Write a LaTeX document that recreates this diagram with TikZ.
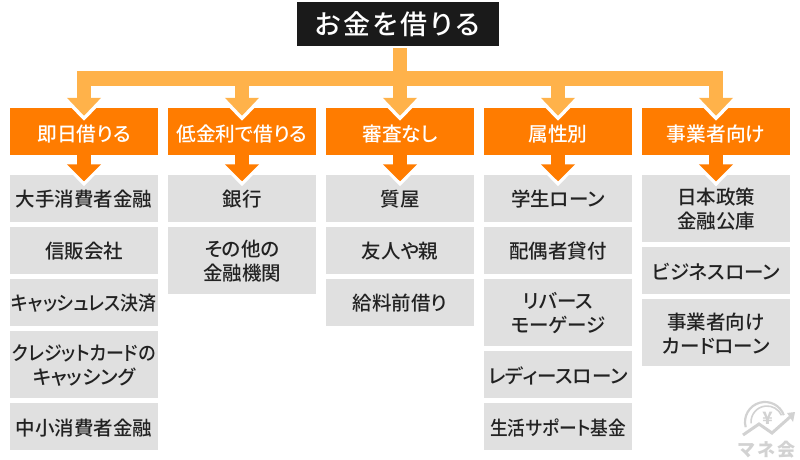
\documentclass[tikz,border=0pt]{standalone}
\usepackage{fontspec}
\usetikzlibrary{arrows.meta}
\newfontfamily\jp[RawFeature=+palt]{Noto Sans CJK JP Medium}
\newfontfamily\jptitle[RawFeature=+palt,LetterSpace=10]{Noto Sans CJK JP Medium}
\newfontfamily\jplogo[RawFeature=+palt]{Noto Sans CJK JP Black}
\definecolor{topblack}{HTML}{1A1A1A}
\definecolor{mainorange}{HTML}{FF7C00}
\definecolor{lightorange}{HTML}{FFB24A}
\definecolor{itemgrey}{HTML}{E0E0E0}
\definecolor{itemtext}{HTML}{222222}
\definecolor{logogrey}{HTML}{D2D2D2}
\newcommand{\tight}[2]{\scalebox{#1}[1]{#2}}
\tikzset{
  titlebox/.style={fill=topblack,text=white,minimum width=202pt,minimum height=44.5pt,inner sep=0pt,
    font={\jptitle\fontsize{27}{30}\selectfont},text height=21pt,text depth=0pt,align=center},
  headbox/.style={fill=mainorange,text=white,minimum width=148pt,minimum height=47pt,inner sep=0pt,
    font={\jp\fontsize{19.7}{24}\selectfont},text height=19pt,text depth=0pt,align=center},
  itembox/.style={fill=itemgrey,text=itemtext,minimum width=148pt,inner sep=0pt,
    font={\jp\fontsize{19.5}{24}\selectfont},text depth=0pt,align=center},
  oneline/.style={itembox,minimum height=47pt,text height=17pt},
  twoline/.style={itembox,minimum height=67pt,text height=41pt},
  trunkline/.style={draw=lightorange,line width=14.6pt,miter limit=10,
    -{Triangle[width=33pt,length=18pt,fill=lightorange]}},
  trunkboth/.style={draw=lightorange,line width=14.6pt,miter limit=10,
    {Triangle[width=33pt,length=18pt,fill=lightorange]}-{Triangle[width=33pt,length=18pt,fill=lightorange]}},
  subline/.style={draw=mainorange,line width=14.6pt,
    -{Triangle[width=33pt,length=17pt,fill=mainorange]}},
  halo/.style={draw=white,line width=14.6pt,
    -{Triangle[width=45pt,length=24pt,fill=white]}},
  haloboth/.style={draw=white,line width=14.6pt,miter limit=10,
    {Triangle[width=45pt,length=24pt,fill=white]}-{Triangle[width=45pt,length=24pt,fill=white]}},
}
\begin{document}
\begin{tikzpicture}[x=1pt,y=-1pt]
\useasboundingbox (0,0) rectangle (800,460);
\fill[white] (0,0) rectangle (800,460);
% title
\node[titlebox] (title) at (397.5,24.25) {お金を借りる};
% headers
\node[headbox] (h1) at (84,131.5) {即日借りる};
\node[headbox] (h2) at (242,131.5) {低金利で借りる};
\node[headbox] (h3) at (400,131.5) {審査なし};
\node[headbox] (h4) at (558,131.5) {属性別};
\node[headbox] (h5) at (716,131.5) {事業者向け};
% column 1
\node[oneline] (a1) at (84,198.3) {大手消費者金融};
\node[oneline] (a2) at (84,250.3) {信販会社};
\node[oneline] (a3) at (84,302) {\tight{0.92}{キャッシュレス決済}};
\node[twoline] (a4) at (84,364.4) {\tight{0.92}{クレジットカードの}\\キャッシング};
\node[oneline] (a5) at (84,426.5) {中小消費者金融};
% column 2
\node[oneline] (b1) at (242,198.3) {銀行};
\node[twoline] (b2) at (242,260.4) {その他の\\金融機関};
% column 3
\node[oneline] (c1) at (400,198.3) {質屋};
\node[oneline] (c2) at (400,250.3) {友人や親};
\node[oneline] (c3) at (400,302) {給料前借り};
% column 4
\node[oneline] (d1) at (558,198.3) {学生ローン};
\node[oneline] (d2) at (558,250.3) {配偶者貸付};
\node[twoline] (d3) at (558,312.4) {リバース\\モーゲージ};
\node[oneline] (d4) at (558,374.5) {レディースローン};
\node[oneline] (d5) at (558,426.5) {\tight{0.91}{生活サポート基金}};
% column 5
\node[twoline] (e1) at (716,208.4) {日本政策\\金融公庫};
\node[oneline] (e2) at (716,270.5) {ビジネスローン};
\node[twoline] (e3) at (716,332.6) {事業者向け\\カードローン};
% bus coordinates
\coordinate (busy) at (400,78.3);
% halos
\draw[haloboth] ([yshift=-13pt]h1.north) -- (h1.north |- busy) -- (h5.north |- busy) -- ([yshift=-13pt]h5.north);
\foreach \h in {h2,h3,h4} \draw[halo] (\h.north |- busy) -- ([yshift=-13pt]\h.north);
\foreach \h/\i in {h1/a1,h2/b1,h3/c1,h4/d1,h5/e1} \draw[halo] (\h.south) -- ([yshift=-11.7pt]\i.north);
% trunk
\draw[trunkboth] ([yshift=-8pt]h1.north) -- (h1.north |- busy) -- (h5.north |- busy) -- ([yshift=-8pt]h5.north);
\draw[trunkline] ([yshift=-1.5pt]title.south -| h3.north) -- ([yshift=-8pt]h3.north);
\draw[trunkline] (h2.north |- busy) -- ([yshift=-8pt]h2.north);
\draw[trunkline] (h4.north |- busy) -- ([yshift=-8pt]h4.north);
% sub arrows
\foreach \h/\i in {h1/a1,h2/b1,h3/c1,h4/d1,h5/e1} \draw[subline] (\h.south) -- ([yshift=-6.7pt]\i.north);
% logo
\begin{scope}[logogrey]
\draw[line width=2.2pt] (765,422) ++(165:20) arc[start angle=165,end angle=340,radius=20];
\draw[line width=1.6pt] (767,422) ++(175:16) arc[start angle=175,end angle=335,radius=16];
\draw[line width=3pt,line join=miter] (743,435) -- (759,424) -- (772,433) -- (790,417);
\fill (795,412) -- (793,422) -- (787,413) -- cycle;
\node[text=logogrey,inner sep=0pt,font={\jplogo\fontsize{17}{17}\selectfont}] (y) at (767.5,418) {¥};
\node[text=logogrey,inner sep=0pt,font={\jplogo\fontsize{18}{18}\selectfont}] (m) at (767,449.5) {マ\hspace{2.5pt}ネ\hspace{2.5pt}会};
\end{scope}
\end{tikzpicture}
\end{document}
